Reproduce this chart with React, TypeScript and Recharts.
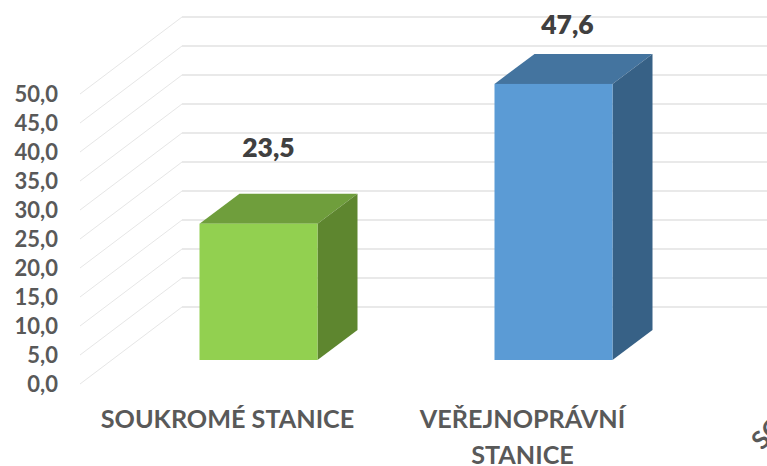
import React from 'react';
import { BarChart, Bar, XAxis, YAxis, CartesianGrid, Cell, LabelList } from 'recharts';

const categories = ['SOUKROMÉ STANICE', 'VEŘEJNOPRÁVNÍ STANICE'];
const values = [23.5, 47.6];
const yTicks = [0, 5, 10, 15, 20, 25, 30, 35, 40, 45, 50];
const frontColors = ['#92d050', '#5b9bd5'];
const topColors = ['#6f9e3c', '#44749f'];
const sideColors = ['#5e862f', '#376186'];

const data = categories.map((name, i) => ({ name, value: values[i] }));

const W = 767;
const H = 466;
const FONT = 'Lato, "Open Sans", sans-serif';
const fmt = (v: number) => v.toFixed(1).replace('.', ',');

// how far the walls and the bars sit behind the front plane of the axis
const wallDx = 102;
const wallDy = 77;
const barDx = 30.5;
const barDy = 24;
const depthX = 40;
const depthY = 30;
const labelShift = [[10, 76], [14, 59]];

function GridLine(props: any) {
  const { x1, y1 } = props;
  const bx = x1 + wallDx;
  const by = y1 - wallDy;
  return (
    <g fill="none">
      <line x1={x1} y1={y1} x2={bx} y2={by} stroke="#e6e6e6" strokeWidth={1} />
      <line x1={bx} y1={by} x2={W} y2={by} stroke="#e9e9e9" strokeWidth={2} />
    </g>
  );
}

function Box3D(props: any) {
  const { x, y, width, height, index } = props;
  const l = x + barDx;
  const t = y - barDy;
  const r = l + width;
  const b = t + height;
  return (
    <g>
      <polygon points={`${l},${t} ${l + depthX},${t - depthY} ${r + depthX},${t - depthY} ${r},${t}`} fill={topColors[index]} />
      <polygon points={`${r},${t} ${r + depthX},${t - depthY} ${r + depthX},${b - depthY} ${r},${b}`} fill={sideColors[index]} />
      <rect x={l} y={t} width={width} height={height} fill={frontColors[index]} />
    </g>
  );
}

function ValueLabel(props: any) {
  const { x, y, width, index, value } = props;
  const [sx, lift] = labelShift[index];
  return (
    <text x={x + barDx + width / 2 + sx} y={y - barDy - lift + 9} textAnchor="middle" fontFamily={FONT} fontWeight={800} fontSize={26.5} fill="#404040">
      {fmt(value)}
    </text>
  );
}

function CategoryTick(props: any) {
  const { x, payload } = props;
  const words = payload.value === categories[1] ? ['VEŘEJNOPRÁVNÍ', 'STANICE'] : [payload.value];
  return (
    <text x={x} textAnchor="middle" fontFamily={FONT} fontWeight={700} fontSize={25.2} fill="#595959">
      {words.map((w: string, i: number) => (
        <tspan key={w} x={x} y={428 + i * 36}>{w}</tspan>
      ))}
    </text>
  );
}

export default function App() {
  return (
    <div style={{ position: 'absolute', left: 0, top: 0, width: W, height: H, overflow: 'hidden' }}>
      <BarChart width={W} height={H} data={data} barSize={118} margin={{ top: 94, right: 97, bottom: 0, left: 0 }}>
        <CartesianGrid vertical={false} horizontal={(p: any) => <GridLine key={p.key} {...p} />} />
        <XAxis dataKey="name" height={82} axisLine={false} tickLine={false} interval={0} tick={<CategoryTick />} />
        <YAxis
          width={80}
          domain={[0, 50]}
          ticks={yTicks}
          interval={0}
          tickFormatter={fmt}
          axisLine={false}
          tickLine={false}
          tickSize={0}
          tickMargin={22}
          tick={{ fontFamily: FONT, fontWeight: 700, fontSize: 22, fill: '#595959' }}
        />
        <Bar dataKey="value" isAnimationActive={false} shape={<Box3D />}>
          {data.map((d, i) => <Cell key={d.name} fill={frontColors[i]} />)}
          <LabelList dataKey="value" content={<ValueLabel />} />
        </Bar>
      </BarChart>
      <div style={{ position: 'absolute', left: 755, top: 429, fontFamily: FONT, fontWeight: 700, fontSize: 25, color: '#595959', transform: 'rotate(-45deg)', transformOrigin: 'left center', whiteSpace: 'nowrap' }}>
        SO
      </div>
    </div>
  );
}
